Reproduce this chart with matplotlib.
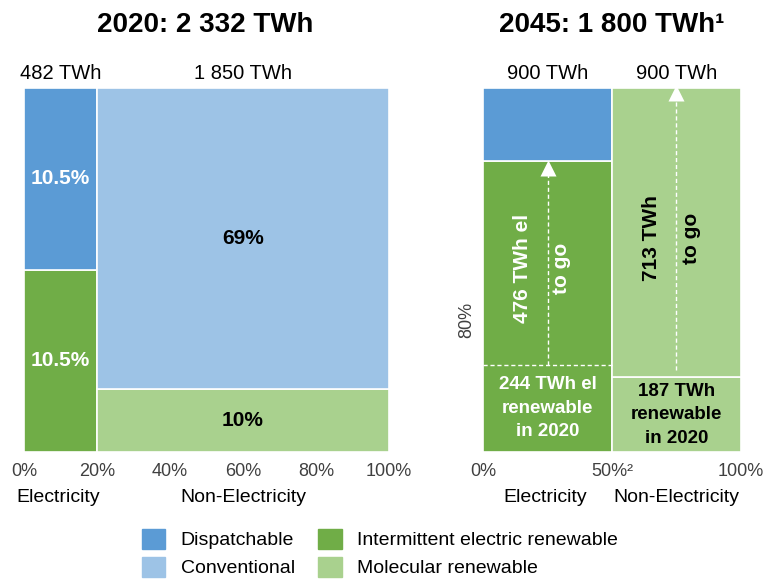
import matplotlib
matplotlib.use("Agg")
import matplotlib.pyplot as plt
from matplotlib.patches import Patch

plt.rcParams['font.family'] = ['Liberation Sans', 'DejaVu Sans']

# colours
C_DISP = "#5B9BD5"
C_CONV = "#9DC3E6"
C_INT = "#70AD47"
C_MOL = "#A9D18E"

# 2020 data (shares)
twh_2020 = ["482 TWh", "1 850 TWh"]
elec_share_2020 = 0.20
elec_split_2020 = [0.5, 0.5]          # intermittent, dispatchable (of column)
nonel_split_2020 = [0.173, 0.827]     # molecular, conventional (of column)
labels_2020 = ["10.5%", "10.5%", "10%", "69%"]

# 2045 data
twh_2045 = ["900 TWh", "900 TWh"]
elec_share_2045 = 0.5
elec_split_2045 = [0.8, 0.2]          # intermittent, dispatchable
elec_ren_2020 = 0.24                  # 244 TWh el renewable in 2020
mol_ren_2020 = 0.206                  # 187 TWh renewable in 2020

fig = plt.figure(figsize=(7.63, 5.82), dpi=100)
H = 582
W = 763
ax1 = fig.add_axes([24 / W, 1 - 452 / H, 365 / W, 364 / H])
ax2 = fig.add_axes([483 / W, 1 - 452 / H, 258 / W, 364 / H])

def style(ax, ticks, ticklabels):
    ax.set_xlim(0, 1)
    ax.set_ylim(0, 1)
    for s in ax.spines.values():
        s.set_visible(False)
    ax.set_yticks([])
    ax.set_xticks(ticks)
    ax.set_xticklabels(ticklabels, fontsize=13, color="#404040")
    ax.tick_params(axis="x", length=0, pad=8)

ec = dict(edgecolor="white", linewidth=1.2, align="edge")

# ---- 2020 ----
w1 = elec_share_2020
ax1.bar(0, elec_split_2020[0], width=w1, color=C_INT, **ec)
ax1.bar(0, elec_split_2020[1], bottom=elec_split_2020[0], width=w1, color=C_DISP, **ec)
ax1.bar(w1, nonel_split_2020[0], width=1 - w1, color=C_MOL, **ec)
ax1.bar(w1, nonel_split_2020[1], bottom=nonel_split_2020[0], width=1 - w1, color=C_CONV, **ec)
style(ax1, [0, 0.2, 0.4, 0.6, 0.8, 1.0], ["0%", "20%", "40%", "60%", "80%", "100%"])

lab = dict(ha="center", va="center", fontsize=15, fontweight="bold")
ax1.text(w1 / 2, elec_split_2020[0] / 2, labels_2020[0], color="white", **lab)
ax1.text(w1 / 2, elec_split_2020[0] + elec_split_2020[1] / 2, labels_2020[1], color="white", **lab)
ax1.text((1 + w1) / 2, nonel_split_2020[0] / 2, labels_2020[2], color="black", **lab)
ax1.text((1 + w1) / 2, nonel_split_2020[0] + nonel_split_2020[1] / 2, labels_2020[3], color="black", **lab)

ax1.text(w1 / 2, 1.04, twh_2020[0], ha="center", va="center", fontsize=14.5)
ax1.text((1 + w1) / 2, 1.04, twh_2020[1], ha="center", va="center", fontsize=14.5)
ax1.text(0.095, -0.124, "Electricity", ha="center", va="center", fontsize=14)
ax1.text(0.6, -0.124, "Non-Electricity", ha="center", va="center", fontsize=14)

# ---- 2045 ----
w2 = elec_share_2045
ax2.bar(0, elec_split_2045[0], width=w2, color=C_INT, **ec)
ax2.bar(0, elec_split_2045[1], bottom=elec_split_2045[0], width=w2, color=C_DISP, **ec)
ax2.bar(w2, mol_ren_2020, width=1 - w2, color=C_MOL, **ec)
ax2.bar(w2, 1 - mol_ren_2020, bottom=mol_ren_2020, width=1 - w2, color=C_MOL, **ec)
style(ax2, [0, 0.5, 1.0], ["0%", "50%²", "100%"])

# dashed line for 2020 electric renewable
ax2.plot([0, w2], [elec_ren_2020, elec_ren_2020], color="white", ls=(0, (3, 2)), lw=1)

# arrows "to go"
ax2.plot([w2 / 2, w2 / 2], [elec_ren_2020, elec_split_2045[0] - 0.03], color="white",
         ls=(0, (3, 2)), lw=1)
ax2.plot([w2 / 2], [elec_split_2045[0] - 0.02], marker="^", color="white", ms=11, mec="none")
xm = (1 + w2) / 2
ax2.plot([xm, xm], [mol_ren_2020 + 0.02, 0.98], color="white", ls=(0, (3, 2)), lw=1)
ax2.plot([xm], [0.985], marker="^", color="white", ms=11, mec="none")

ax2.text(0.155, 0.505, "476 TWh el", rotation=90, color="white", **lab)
ax2.text(0.306, 0.505, "to go", rotation=90, color="white", **lab)
ax2.text(0.655, 0.588, "713 TWh", rotation=90, color="black", **lab)
ax2.text(0.81, 0.588, "to go", rotation=90, color="black", **lab)

ax2.text(w2 / 2, elec_ren_2020 / 2, "244 TWh el\nrenewable\nin 2020", color="white",
         linespacing=1.5, **{**lab, "fontsize": 13.5})
ax2.text(xm, mol_ren_2020 / 2, "187 TWh\nrenewable\nin 2020", color="black",
         linespacing=1.5, **{**lab, "fontsize": 13.5})

ax2.text(-0.062, 0.363, "80%", rotation=90, ha="center", va="center", fontsize=13,
         color="#404040")

ax2.text(w2 / 2, 1.04, twh_2045[0], ha="center", va="center", fontsize=14.5)
ax2.text(xm, 1.04, twh_2045[1], ha="center", va="center", fontsize=14.5)
ax2.text(0.24, -0.124, "Electricity", ha="center", va="center", fontsize=14)
ax2.text(0.75, -0.124, "Non-Electricity", ha="center", va="center", fontsize=14)

# titles
fig.text(205 / W, 1 - 25 / H, "2020: 2 332 TWh", ha="center", va="center",
         fontsize=20, fontweight="bold")
fig.text(612 / W, 1 - 25 / H, "2045: 1 800 TWh¹", ha="center", va="center",
         fontsize=20, fontweight="bold")

# legend
handles = [Patch(color=C_DISP, label="Dispatchable"),
           Patch(color=C_CONV, label="Conventional"),
           Patch(color=C_INT, label="Intermittent electric renewable"),
           Patch(color=C_MOL, label="Molecular renewable")]
fig.legend(handles=handles, ncol=2, loc="center", bbox_to_anchor=(380 / W, 1 - 553 / H),
           frameon=False, fontsize=14, handlelength=1.2, handleheight=1.2,
           columnspacing=1.2, handletextpad=0.8, labelspacing=0.4)

fig.savefig("out.png", dpi=100)
